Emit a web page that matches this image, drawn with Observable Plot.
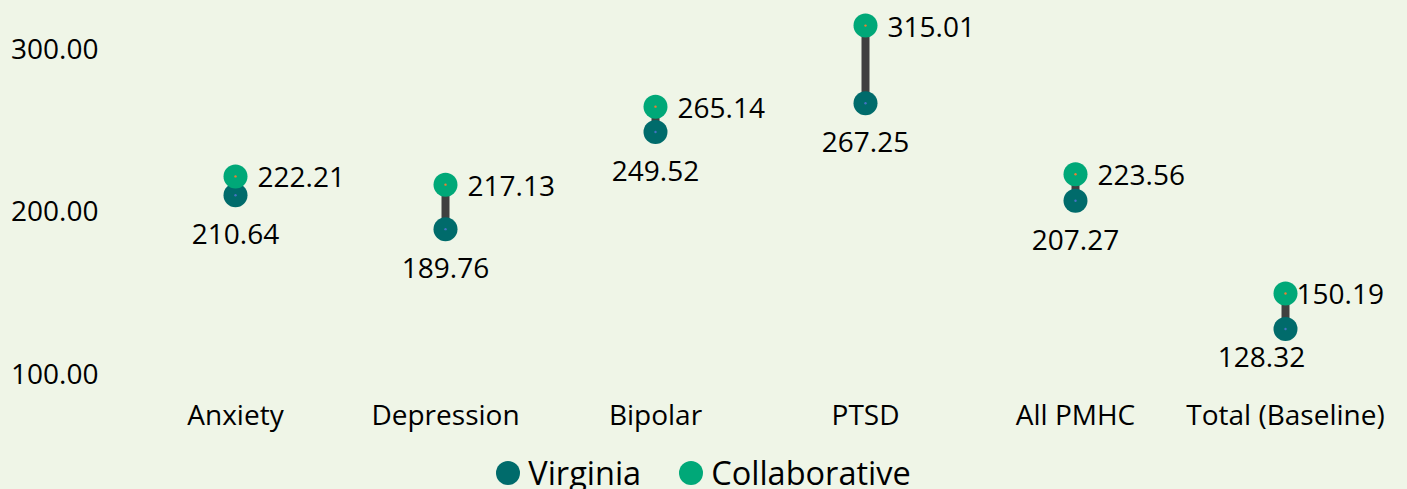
<!DOCTYPE html>
<html>
<head>
<meta charset="utf-8">
<script src="https://cdn.jsdelivr.net/npm/d3@7"></script>
<script src="https://cdn.jsdelivr.net/npm/@observablehq/plot@0.6"></script>
<style>
  html, body { margin: 0; padding: 0; background: #eff5e7; overflow: hidden; }
  body { width: 1407px; height: 489px; font-family: "Open Sans", sans-serif; }
  #legend { display: flex; justify-content: center; align-items: center; margin-top: 9px; line-height: 1; font-size: 32.5px; color: #000; }
  .item { display: flex; align-items: center; }
  .sw { width: 24px; height: 24px; border-radius: 50%; margin-right: 8px; }
  .item + .item { margin-left: 38px; }
</style>
</head>
<body>
<div id="chart"></div>
<div id="legend"></div>
<script>
const categories = ["Anxiety", "Depression", "Bipolar", "PTSD", "All PMHC", "Total (Baseline)"];
const virginia = [210.64, 189.76, 249.52, 267.25, 207.27, 128.32];
const collaborative = [222.21, 217.13, 265.14, 315.01, 223.56, 150.19];
const yTicks = [100, 200, 300];
const seriesNames = ["Virginia", "Collaborative"];
const seriesColors = ["#006b6b", "#00a878"];

const rows = categories.map((c, i) => ({cat: c, va: virginia[i], co: collaborative[i], last: i === categories.length - 1}));
const fmt = d3.format(".2f");
const font = "'Open Sans', sans-serif";

const plot = Plot.plot({
  width: 1407,
  height: 448,
  marginLeft: 128,
  marginRight: 15,
  marginTop: 17,
  marginBottom: 54,
  style: {background: "transparent", fontFamily: font, fontSize: "28px", color: "#000"},
  x: {type: "point", domain: categories, padding: 0.5},
  y: {domain: [88, 320]},
  marks: [
    Plot.axisY({ticks: yTicks, tickFormat: fmt, tickSize: 0, tickPadding: 30, fontSize: 28, label: null, textAnchor: "end"}),
    Plot.axisX({tickSize: 0, tickPadding: 11, fontSize: 28, label: null}),
    Plot.ruleX(rows, {x: "cat", y1: "va", y2: "co", stroke: "#404040", strokeWidth: 8}),
    Plot.dot(rows, {x: "cat", y: "va", r: 12, fill: seriesColors[0]}),
    Plot.dot(rows, {x: "cat", y: "co", r: 12, fill: seriesColors[1]}),
    Plot.dot(rows, {x: "cat", y: "va", r: 1.2, fill: "#4472c4"}),
    Plot.dot(rows, {x: "cat", y: "co", r: 1.2, fill: "#ed7d31"}),
    Plot.text(rows.filter(d => !d.last), {x: "cat", y: "va", text: d => fmt(d.va), dy: 40, fontSize: 28, fill: "#000"}),
    Plot.text(rows.filter(d => d.last), {x: "cat", y: "va", text: d => fmt(d.va), dx: -24, dy: 29, fontSize: 28, fill: "#000"}),
    Plot.text(rows.filter(d => !d.last), {x: "cat", y: "co", text: d => fmt(d.co), dx: 22, dy: 2, textAnchor: "start", fontSize: 28, fill: "#000"}),
    Plot.text(rows.filter(d => d.last), {x: "cat", y: "co", text: d => fmt(d.co), dx: 11, dy: 2, textAnchor: "start", fontSize: 28, fill: "#000"})
  ]
});
document.getElementById("chart").appendChild(plot);

const legend = document.getElementById("legend");
seriesNames.forEach((name, i) => {
  const item = document.createElement("div");
  item.className = "item";
  const sw = document.createElement("span");
  sw.className = "sw";
  sw.style.background = seriesColors[i];
  const t = document.createElement("span");
  t.textContent = name;
  item.appendChild(sw);
  item.appendChild(t);
  legend.appendChild(item);
});
</script>
</body>
</html>
